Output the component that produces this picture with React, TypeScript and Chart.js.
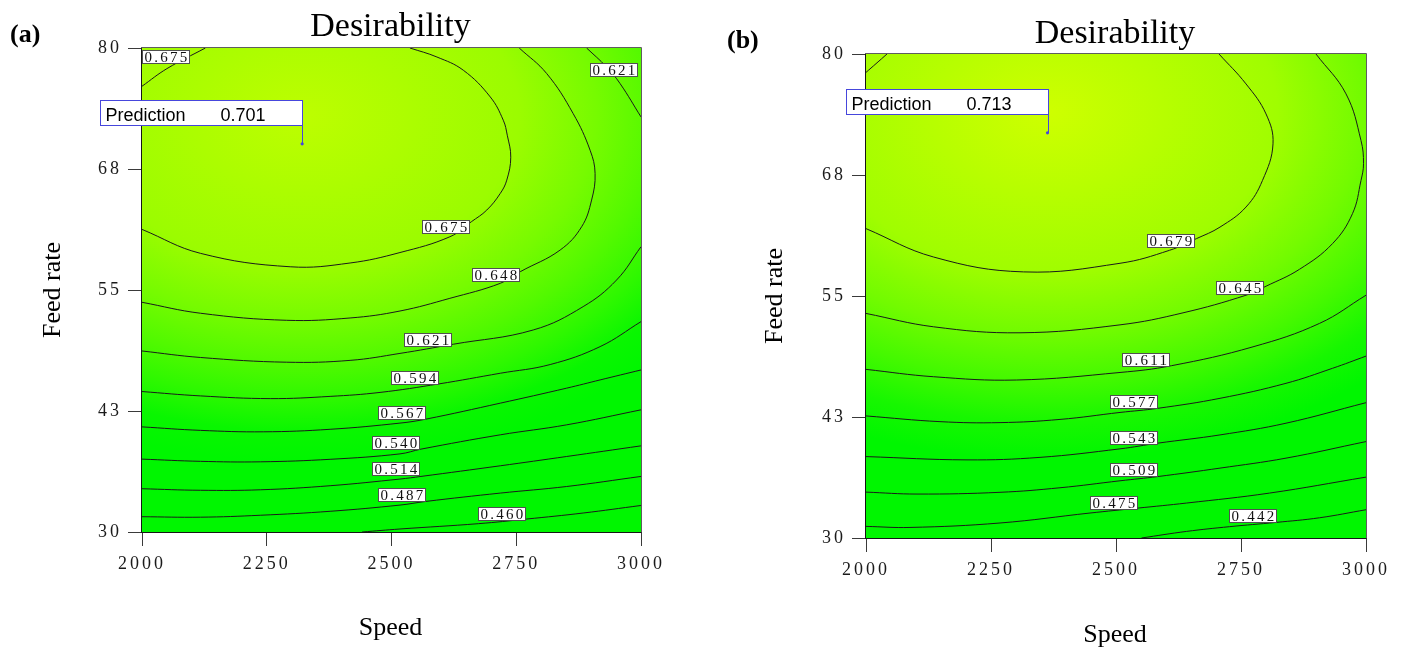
import { useEffect, useRef } from 'react';
import { Chart, registerables } from 'chart.js';

Chart.register(...registerables);

type Pt = [number, number];

const SERIF = "'Liberation Serif', 'Times New Roman', Times, serif";
const SANS = "'Liberation Sans', Arial, Helvetica, sans-serif";
const FLAG_BLUE = '#4646dc';

// Axes (shared by both panels)
const speedTicks = [2000, 2250, 2500, 2750, 3000];
const feedTicks = [30, 42.5, 55, 67.5, 80];
const feedTickLabels = ['30', '43', '55', '68', '80'];

// ---------- Panel (a): contour traces, [speed, feed rate] ----------
const a675Corner: Pt[] = [[2000, 76.05], [2050, 77.87], [2127, 80]];
const a675: Pt[] = [[2000, 61.26], [2117, 58.79], [2297, 57.4], [2417, 57.79], [2517, 58.87], [2617, 60.5], [2660, 62.05], [2691, 63.26], [2718, 64.98], [2731, 66.35], [2739, 68.72], [2732, 70.99], [2724, 72.54], [2698, 74.94], [2644, 77.7], [2591, 79.07], [2537, 80]];
const a648: Pt[] = [[2000, 53.73], [2117, 52.6], [2290, 51.87], [2417, 52.11], [2517, 52.83], [2617, 54.14], [2718, 55.69], [2758, 56.89], [2838, 59.13], [2881, 61.53], [2901, 64.29], [2908, 67.04], [2898, 69.44], [2864, 73.23], [2811, 77.36], [2756, 80]];
const a621Corner: Pt[] = [[2891, 80], [2931, 78.04], [2958, 76.33], [3000, 72.88]];
const a621: Pt[] = [[2000, 48.7], [2117, 48.03], [2290, 47.54], [2417, 47.73], [2517, 48.45], [2624, 49.4], [2784, 50.87], [2884, 53.28], [2951, 56.03], [3000, 59.47]];
const a594: Pt[] = [[2000, 44.51], [2117, 44.06], [2257, 43.78], [2377, 44.01], [2477, 44.42], [2595, 45.3], [2718, 46.4], [2818, 47.3], [2918, 49.15], [3000, 51.73]];
const a567: Pt[] = [[2000, 40.86], [2117, 40.5], [2243, 40.35], [2377, 40.61], [2517, 41.25], [2569, 41.66], [2718, 43.31], [2851, 44.86], [2918, 45.71], [3000, 46.74]];
const a540: Pt[] = [[2000, 37.53], [2117, 37.3], [2237, 37.25], [2377, 37.51], [2517, 38.07], [2559, 38.56], [2718, 40.04], [2851, 41.07], [3000, 42.62]];
const a514: Pt[] = [[2000, 34.47], [2117, 34.31], [2237, 34.36], [2377, 34.78], [2517, 35.47], [2559, 35.74], [2718, 36.84], [2851, 37.8], [3000, 38.9]];
const a487: Pt[] = [[2000, 31.58], [2117, 31.53], [2237, 31.73], [2377, 32.14], [2517, 32.78], [2569, 33.16], [2718, 34.02], [2851, 34.7], [3000, 35.74]];
const a460: Pt[] = [[2441, 30], [2517, 30.31], [2674, 30.86], [2771, 31.34], [2884, 31.96], [3000, 32.74]];

// Panel (a): label positions along the contours
const aLabelLevels = [0.675, 0.621, 0.675, 0.648, 0.621, 0.594, 0.567, 0.54, 0.514, 0.487, 0.46];
const aLabelSpeed = [2049, 2946, 2609, 2710, 2573, 2547, 2521, 2509, 2509, 2522, 2722];
const aLabelFeed = [79.04, 77.7, 61.5, 56.54, 49.84, 45.92, 42.31, 39.22, 36.46, 33.85, 31.91];

const aPrediction = { speed: 2321, feed: 70.1, value: 0.701 };

// ---------- Panel (b): contour traces, [speed, feed rate] ----------
const b679Corner: Pt[] = [[2000, 78.1], [2020, 79.0], [2042, 80]];
const b679: Pt[] = [[2000, 61.96], [2135, 59.03], [2315, 57.49], [2508, 58.38], [2607, 59.72], [2661, 60.93], [2708, 62.12], [2760, 64.19], [2793, 66.94], [2814, 70.72], [2800, 73.81], [2760, 76.91], [2706, 80]];
const b645: Pt[] = [[2000, 53.2], [2135, 51.82], [2308, 51.2], [2508, 52.02], [2634, 53.26], [2760, 55.08], [2800, 56.01], [2867, 57.76], [2933, 60.41], [2973, 63.51], [2990, 66.94], [2995, 68.66], [2990, 71.06], [2960, 75.88], [2900, 80]];
const b611: Pt[] = [[2000, 47.42], [2135, 46.66], [2301, 46.32], [2508, 47.1], [2611, 47.8], [2774, 49.75], [2907, 52.17], [3000, 55.08]];
const b577: Pt[] = [[2000, 42.61], [2148, 42.02], [2268, 41.92], [2388, 42.25], [2508, 42.97], [2584, 43.4], [2708, 44.43], [2840, 45.98], [2933, 47.53], [3000, 48.79]];
const b543: Pt[] = [[2000, 38.41], [2202, 38.07], [2348, 38.33], [2508, 39.21], [2584, 39.8], [2708, 40.65], [2840, 41.86], [3000, 43.98]];
const b509: Pt[] = [[2000, 34.74], [2102, 34.54], [2268, 34.72], [2388, 35.19], [2508, 35.91], [2584, 36.35], [2708, 37.22], [2840, 38.25], [3000, 39.96]];
const b475: Pt[] = [[2000, 31.2], [2088, 31.09], [2268, 31.55], [2448, 32.58], [2544, 33.09], [2641, 33.61], [2807, 34.64], [3000, 36.29]];
const b442: Pt[] = [[2551, 30], [2641, 30.68], [2727, 31.17], [2820, 31.61], [2907, 32.09], [3000, 32.92]];

// Panel (b): label positions along the contours
const bLabelLevels = [0.679, 0.645, 0.611, 0.577, 0.543, 0.509, 0.475, 0.442];
const bLabelSpeed = [2610, 2747, 2560, 2536, 2536, 2536, 2496, 2774];
const bLabelFeed = [60.72, 55.86, 48.41, 44.05, 40.34, 36.99, 33.64, 32.23];

const bPrediction = { speed: 2363, feed: 71.86, value: 0.713 };

interface Contour { level: number; points: Pt[]; main: boolean }

interface PanelSpec {
  tag: string;
  contours: Contour[];
  labelLevels: number[];
  labelSpeed: number[];
  labelFeed: number[];
  prediction: { speed: number; feed: number; value: number };
  shadeCenter: number;
  stretch: number;
  canvasLeft: number;
  width: number;
  area: { left: number; top: number; right: number; bottom: number };
  titleY: number;
  speedY: number;
  feedX: number;
  tagX: number;
  tagY: number;
}

const HEIGHT = 649;

const panelA: PanelSpec = {
  tag: '(a)',
  contours: [
    { level: 0.675, points: a675Corner, main: false },
    { level: 0.675, points: a675, main: true },
    { level: 0.648, points: a648, main: true },
    { level: 0.621, points: a621Corner, main: false },
    { level: 0.621, points: a621, main: true },
    { level: 0.594, points: a594, main: true },
    { level: 0.567, points: a567, main: true },
    { level: 0.54, points: a540, main: true },
    { level: 0.514, points: a514, main: true },
    { level: 0.487, points: a487, main: true },
    { level: 0.46, points: a460, main: true },
  ],
  labelLevels: aLabelLevels,
  labelSpeed: aLabelSpeed,
  labelFeed: aLabelFeed,
  prediction: aPrediction,
  shadeCenter: 73,
  stretch: 1.44,
  canvasLeft: 0,
  width: 700,
  area: { left: 142, top: 48, right: 641, bottom: 532 },
  titleY: 36,
  speedY: 635,
  feedX: 59.5,
  tagX: 10,
  tagY: 42,
};

const panelB: PanelSpec = {
  tag: '(b)',
  contours: [
    { level: 0.679, points: b679Corner, main: false },
    { level: 0.679, points: b679, main: true },
    { level: 0.645, points: b645, main: true },
    { level: 0.611, points: b611, main: true },
    { level: 0.577, points: b577, main: true },
    { level: 0.543, points: b543, main: true },
    { level: 0.509, points: b509, main: true },
    { level: 0.475, points: b475, main: true },
    { level: 0.442, points: b442, main: true },
  ],
  labelLevels: bLabelLevels,
  labelSpeed: bLabelSpeed,
  labelFeed: bLabelFeed,
  prediction: bPrediction,
  shadeCenter: 74,
  stretch: 1.44,
  canvasLeft: 700,
  width: 704,
  area: { left: 166, top: 54, right: 666, bottom: 538 },
  titleY: 42.5,
  speedY: 641.5,
  feedX: 81.5,
  tagX: 27,
  tagY: 48,
};

// Desirability colour ramp: green for low values, lime/yellow towards the optimum
function shade(v: number): string {
  const t = Math.min(1, Math.max(0, (v - 0.56) / 0.16));
  return `rgb(${Math.round(215 * t)},${Math.round(246 + 9 * t)},0)`;
}

function buildConfig(spec: PanelSpec): any {
  const { area } = spec;

  const contourSets = spec.contours.map((c) => ({
    data: c.points.map(([x, y]) => ({ x, y })),
    showLine: true,
    borderColor: '#1a1a1a',
    borderWidth: 1,
    pointRadius: 0,
    pointHoverRadius: 0,
    tension: 0.4,
    fill: false,
  }));

  const predictionSet = {
    data: [{ x: spec.prediction.speed, y: spec.prediction.feed }],
    showLine: false,
    pointRadius: 1.6,
    pointHoverRadius: 1.6,
    pointBackgroundColor: FLAG_BLUE,
    pointBorderWidth: 0,
  };

  const tickSpacing = {
    id: 'tickSpacing',
    beforeDraw(chart: any) {
      chart.ctx.letterSpacing = '3px';
    },
  };

  const shading = {
    id: 'shading',
    beforeDatasetsDraw(chart: any) {
      const { ctx, chartArea: ca, scales } = chart;
      ctx.letterSpacing = '0px';
      const xs = scales.x;
      const ys = scales.y;
      const cx = xs.getPixelForValue(spec.prediction.speed);
      const cy = ys.getPixelForValue(spec.shadeCenter);
      const unit = Math.abs(ys.getPixelForValue(80) - ys.getPixelForValue(30)) / 50;
      const stops: [number, number][] = [[0, spec.prediction.value]];
      spec.contours
        .filter((c) => c.main)
        .forEach((c) => {
          const low = Math.min(...c.points.map((p) => p[1]));
          stops.push([spec.shadeCenter - low, c.level]);
        });
      stops.sort((a, b) => a[0] - b[0]);
      const maxD = stops[stops.length - 1][0];
      ctx.save();
      ctx.beginPath();
      ctx.rect(ca.left, ca.top, ca.right - ca.left, ca.bottom - ca.top);
      ctx.clip();
      ctx.translate(cx, cy);
      ctx.scale(spec.stretch, 1);
      const g = ctx.createRadialGradient(0, 0, 0, 0, 0, maxD * unit);
      stops.forEach(([d, v]) => g.addColorStop(d / maxD, shade(v)));
      ctx.fillStyle = g;
      ctx.fillRect(-3000, -3000, 6000, 6000);
      ctx.restore();
    },
  };

  const overlay = {
    id: 'overlay',
    afterDatasetsDraw(chart: any) {
      const { ctx, chartArea: ca, scales } = chart;
      const xs = scales.x;
      const ys = scales.y;
      ctx.save();
      ctx.letterSpacing = '0px';
      ctx.lineWidth = 1;

      // plot frame
      ctx.strokeStyle = '#5e5e5e';
      ctx.beginPath();
      ctx.moveTo(ca.left - 0.5, ca.top - 0.5);
      ctx.lineTo(ca.right + 0.5, ca.top - 0.5);
      ctx.lineTo(ca.right + 0.5, ca.bottom + 0.5);
      ctx.stroke();
      ctx.strokeStyle = '#151515';
      ctx.beginPath();
      ctx.moveTo(ca.left - 0.5, ca.top - 0.5);
      ctx.lineTo(ca.left - 0.5, ca.bottom + 0.5);
      ctx.lineTo(ca.right + 0.5, ca.bottom + 0.5);
      ctx.stroke();

      // contour level labels
      ctx.font = `15px ${SERIF}`;
      ctx.letterSpacing = '2.3px';
      ctx.textAlign = 'center';
      ctx.textBaseline = 'middle';
      spec.labelLevels.forEach((lv, i) => {
        const px = Math.round(xs.getPixelForValue(spec.labelSpeed[i]));
        const py = Math.round(ys.getPixelForValue(spec.labelFeed[i]));
        const w = 48;
        const h = 14;
        const bx = px - w / 2;
        const by = py - h / 2;
        ctx.fillStyle = '#ffffff';
        ctx.fillRect(bx, by, w, h);
        ctx.strokeStyle = '#505050';
        ctx.strokeRect(bx + 0.5, by + 0.5, w - 1, h - 1);
        ctx.fillStyle = '#111';
        ctx.fillText(lv.toFixed(3), px + 1, py + 1);
      });

      // prediction flag
      ctx.letterSpacing = '0px';
      const p = spec.prediction;
      const px = Math.round(xs.getPixelForValue(p.speed)) + 0.5;
      const py = ys.getPixelForValue(p.feed);
      const bw = 202;
      const bh = 25;
      const bx = px - bw;
      const by = Math.round(py - 44) + 0.5;
      ctx.fillStyle = '#ffffff';
      ctx.fillRect(bx, by, bw, bh);
      ctx.strokeStyle = FLAG_BLUE;
      ctx.strokeRect(bx, by, bw, bh);
      ctx.beginPath();
      ctx.moveTo(px, by + bh);
      ctx.lineTo(px, py);
      ctx.stroke();
      ctx.font = `18px ${SANS}`;
      ctx.textAlign = 'left';
      ctx.textBaseline = 'alphabetic';
      ctx.fillStyle = '#000';
      ctx.fillText('Prediction', bx + 5, by + 20);
      ctx.fillText(p.value.toFixed(3), bx + 120, by + 20);
      ctx.restore();
    },
  };

  const texts = {
    id: 'texts',
    afterDraw(chart: any) {
      const { ctx, chartArea: ca } = chart;
      ctx.save();
      ctx.letterSpacing = '0px';
      ctx.fillStyle = '#000';
      ctx.textBaseline = 'alphabetic';
      ctx.textAlign = 'center';
      const midX = (ca.left + ca.right) / 2 - 1;
      ctx.font = `34px ${SERIF}`;
      ctx.fillText('Desirability', midX, spec.titleY);
      ctx.font = `26px ${SERIF}`;
      ctx.fillText('Speed', midX, spec.speedY);
      ctx.save();
      ctx.translate(spec.feedX, (ca.top + ca.bottom) / 2);
      ctx.rotate(-Math.PI / 2);
      ctx.fillText('Feed rate', 0, 0);
      ctx.restore();
      ctx.textAlign = 'left';
      ctx.font = `bold 26px ${SERIF}`;
      ctx.fillText(spec.tag, spec.tagX, spec.tagY);
      ctx.restore();
    },
  };

  const tickFont = { family: SERIF, size: 18 };

  return {
    type: 'scatter',
    data: { datasets: [predictionSet, ...contourSets] },
    options: {
      animation: false,
      responsive: false,
      events: [],
      layout: {
        padding: { left: 0, top: area.top, right: spec.width - area.right, bottom: 0 },
      },
      plugins: {
        legend: { display: false },
        tooltip: { enabled: false },
        title: { display: false },
      },
      scales: {
        x: {
          type: 'linear',
          min: 2000,
          max: 3000,
          afterFit: (s: any) => {
            s.height = HEIGHT - area.bottom;
          },
          afterBuildTicks: (s: any) => {
            s.ticks = speedTicks.map((v) => ({ value: v }));
          },
          ticks: {
            autoSkip: false,
            maxRotation: 0,
            padding: 7,
            color: '#1a1a1a',
            font: tickFont,
            callback: (_v: any, i: number) => String(speedTicks[i]),
          },
          grid: {
            drawOnChartArea: false,
            drawTicks: true,
            tickLength: 14,
            tickColor: '#3a3a3a',
          },
          border: { display: false },
        },
        y: {
          type: 'linear',
          min: 30,
          max: 80,
          afterFit: (s: any) => {
            s.width = area.left;
          },
          afterBuildTicks: (s: any) => {
            s.ticks = feedTicks.map((v) => ({ value: v }));
          },
          ticks: {
            autoSkip: false,
            padding: 6,
            color: '#1a1a1a',
            font: tickFont,
            callback: (_v: any, i: number) => feedTickLabels[i],
          },
          grid: {
            drawOnChartArea: false,
            drawTicks: true,
            tickLength: 14,
            tickColor: '#3a3a3a',
          },
          border: { display: false },
        },
      },
    },
    plugins: [tickSpacing, shading, overlay, texts],
  };
}

function ContourPanel({ spec }: { spec: PanelSpec }) {
  const ref = useRef<HTMLCanvasElement>(null);
  useEffect(() => {
    const canvas = ref.current;
    if (!canvas) return;
    const chart = new Chart(canvas, buildConfig(spec));
    return () => chart.destroy();
  }, [spec]);
  return (
    <canvas
      ref={ref}
      width={spec.width}
      height={HEIGHT}
      style={{ position: 'absolute', left: spec.canvasLeft, top: 0, width: spec.width, height: HEIGHT }}
    />
  );
}

export default function App() {
  return (
    <div style={{ position: 'absolute', left: 0, top: 0, width: 1404, height: HEIGHT, background: '#ffffff', overflow: 'hidden' }}>
      <ContourPanel spec={panelA} />
      <ContourPanel spec={panelB} />
    </div>
  );
}
